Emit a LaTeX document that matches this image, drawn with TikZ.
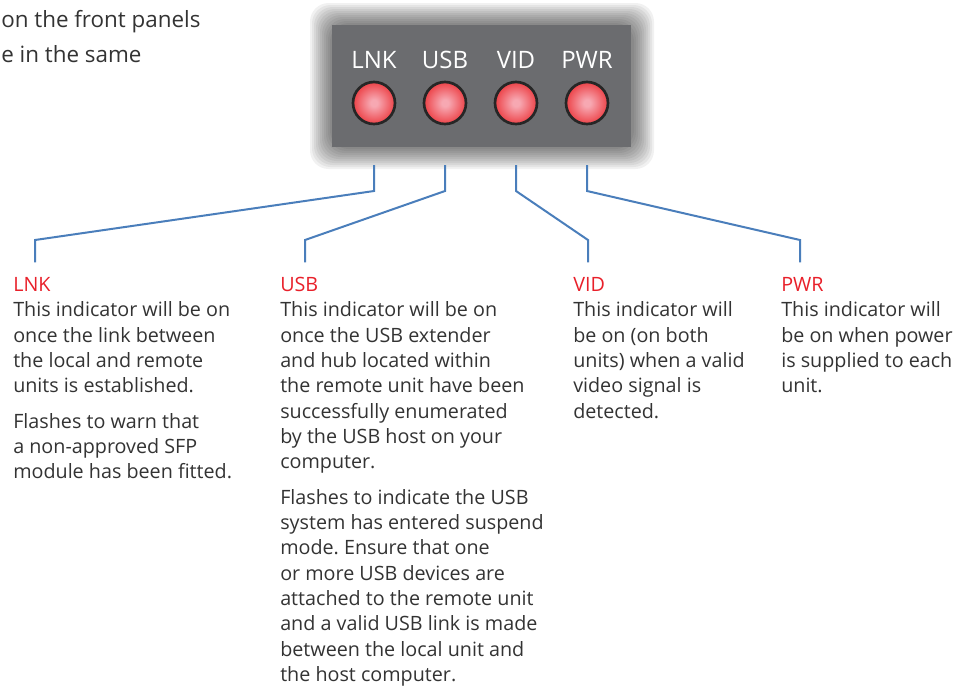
\documentclass[tikz,border=0pt]{standalone}
\usepackage{fontspec}
\setmainfont{Open Sans}
\frenchspacing
\definecolor{linkblue}{HTML}{4A7EBB}
\definecolor{ledred}{HTML}{EA2A2E}
\definecolor{ledpink}{HTML}{F7A8B2}
\definecolor{titlered}{HTML}{E8202A}
\definecolor{panelgray}{HTML}{6B6C6F}
\definecolor{bodygray}{HTML}{333333}
\pgfdeclareradialshading{ledglow}{\pgfpoint{0bp}{0bp}}{color(0bp)=(ledpink); color(4bp)=(ledpink); color(30bp)=(ledred); color(50bp)=(ledred!85!black)}
\begin{document}
\begin{tikzpicture}[x=0.75pt, y=-0.75pt,
        led/.style={circle, draw=black!85, line width=2pt, minimum size=31.5pt, shading=ledglow},
        ledname/.style={text=white, font=\fontsize{18}{20}\selectfont},
        info/.style={anchor=north west, inner sep=0pt, align=left, text=bodygray, font=\fontsize{14.8}{19}\selectfont},
        link/.style={draw=linkblue, line width=1.5pt, shorten >=11pt}
    ]
        \useasboundingbox (0,0) rectangle (958,687);

        \node[anchor=base west, inner sep=0pt, text=bodygray, font=\fontsize{16.8}{26}\selectfont] (intro1) at (1,27) {on the front panels};
        \node[anchor=base west, inner sep=0pt, text=bodygray, font=\fontsize{16.8}{26}\selectfont] (intro2) at (1,62) {e in the same};

        \foreach \i in {0,...,10}
            \fill[black, opacity=0.055, rounded corners=14] (310+2*\i,3+2*\i) rectangle (654-2*\i,169-2*\i);
        \node[fill=panelgray, inner sep=0pt, minimum width=224pt, minimum height=91.5pt] (panel) at (481.5,86) {};
        \coordinate (panelbase) at (481.5,165);
        \coordinate (elbow) at (481.5,191);

        \node[led] (lnk) at (374,103) {};
        \node[led] (usb) at (445,103) {};
        \node[led] (vid) at (516,103) {};
        \node[led] (pwr) at (587,103) {};
        \node[ledname] at (374,60) {LNK};
        \node[ledname] at (445,60) {USB};
        \node[ledname] at (516,60) {VID};
        \node[ledname] at (587,60) {PWR};

        \node[info] (lnktext) at (13,277) {{\color{titlered}LNK}\\This indicator will be on\\once the link between\\the local and remote\\units is established.\\[7.5pt]Flashes to warn that\\a non-approved SFP\\module has been fitted.};
        \node[info] (usbtext) at (280,277) {{\color{titlered}USB}\\This indicator will be on\\once the USB extender\\and hub located within\\the remote unit have been\\successfully enumerated\\by the USB host on your\\computer.\\[7.5pt]Flashes to indicate the USB\\system has entered suspend\\mode. Ensure that one\\or more USB devices are\\attached to the remote unit\\and a valid USB link is made\\between the local unit and\\the host computer.};
        \node[info] (vidtext) at (573,277) {{\color{titlered}VID}\\This indicator will\\be on (on both\\units) when a valid\\video signal is\\detected.};
        \node[info] (pwrtext) at (781,277) {{\color{titlered}PWR}\\This indicator will\\be on when power\\is supplied to each\\unit.};

        \coordinate (lnkend) at (35,240);
        \coordinate (usbend) at (305,240);
        \coordinate (vidend) at (588,240);
        \coordinate (pwrend) at (800,240);
        \draw[link] (lnk |- panelbase) -- (lnk |- elbow) -- (lnkend) -- (lnkend |- lnktext.north);
        \draw[link] (usb |- panelbase) -- (usb |- elbow) -- (usbend) -- (usbend |- usbtext.north);
        \draw[link] (vid |- panelbase) -- (vid |- elbow) -- (vidend) -- (vidend |- vidtext.north);
        \draw[link] (pwr |- panelbase) -- (pwr |- elbow) -- (pwrend) -- (pwrend |- pwrtext.north);
    \end{tikzpicture}
\end{document}
